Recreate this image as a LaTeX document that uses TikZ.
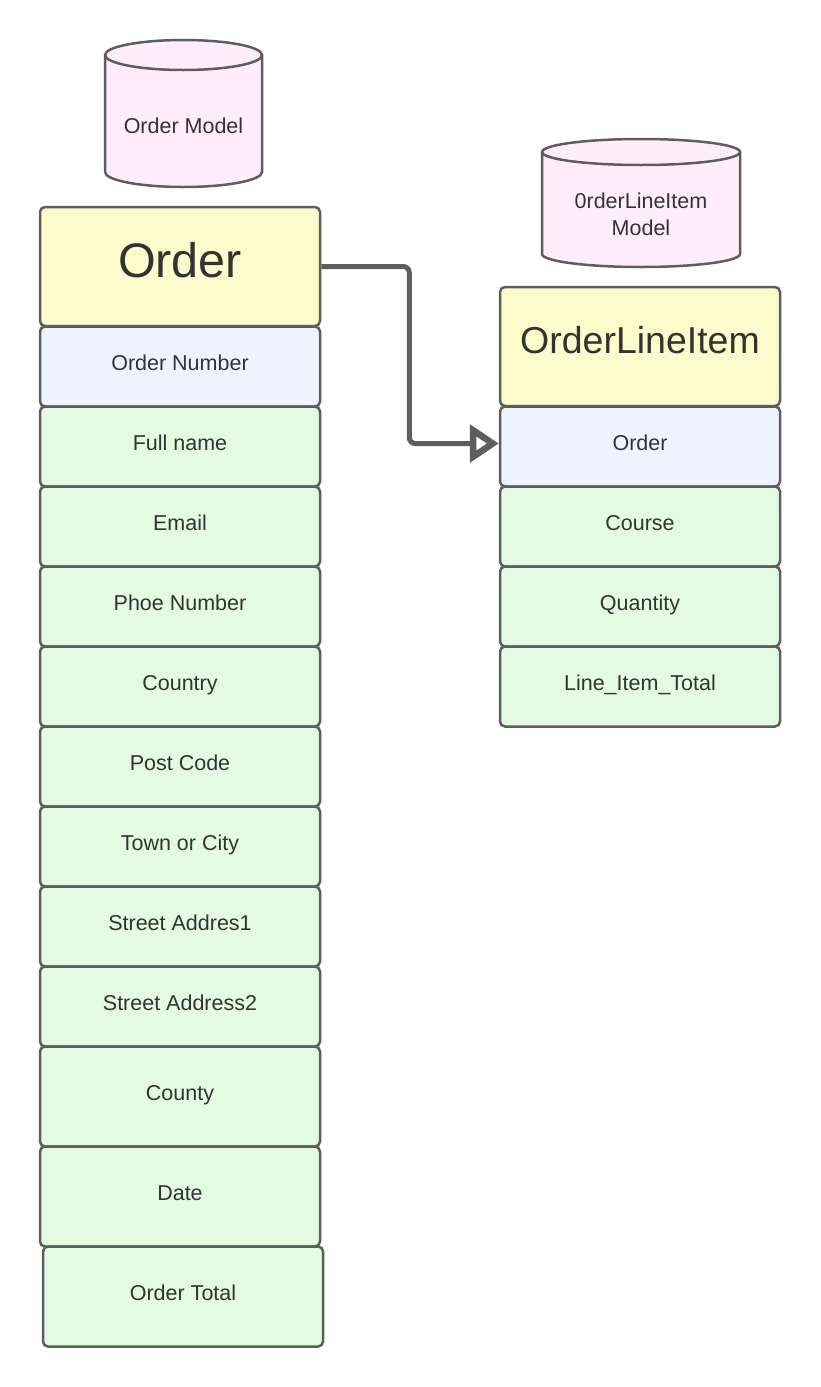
\documentclass[tikz,border=0pt]{standalone}
\usepackage{fontspec}
\setmainfont{Liberation Sans}
\usetikzlibrary{arrows.meta}
\definecolor{ylw}{HTML}{FBFBCB}
\definecolor{blu}{HTML}{EDF4FF}
\definecolor{grn}{HTML}{E3FAE3}
\definecolor{pnk}{HTML}{FFEEF9}
\definecolor{brd}{HTML}{5E5E5E}
\definecolor{txt}{HTML}{333333}
\tikzset{
  box/.style={draw=brd, line width=2.5pt, rounded corners=5pt, minimum width=280pt,
    inner sep=0pt, text=txt, font=\fontsize{21.5}{26}\selectfont,
    text height=16pt, text depth=7.5pt},
  fld/.style={box, fill=grn, minimum height=80pt},
  keyfld/.style={box, fill=blu, minimum height=80pt},
  tallfld/.style={box, fill=grn, minimum height=100pt},
  hdr/.style={box, fill=ylw, minimum height=119pt, text depth=13.2pt},
  cyl/.style={draw=brd, fill=pnk, line width=2.5pt},
  cyltext/.style={text=txt, font=\fontsize{21.5}{27}\selectfont, align=center, inner sep=0pt},
  conn/.style={draw=brd, line width=5pt, rounded corners=6pt,
    -{Triangle[open, length=29pt, width=37pt, line width=6.5pt]}}
}
\begin{document}
\begin{tikzpicture}[x=1pt,y=-1pt]
\path[use as bounding box, fill=white] (0,0) rectangle (820,1387);
% cylinders
\draw[cyl] (105,55) -- (105,172) arc (180:0:78.5 and 15) -- (262,55) arc (0:-180:78.5 and 15) -- cycle;
\draw[cyl, fill=none] (105,55) arc (180:0:78.5 and 15);
\node[cyltext] (ordermodel) at (183.5,126) {Order Model};
\draw[cyl] (542,152) -- (542,254) arc (180:0:99 and 13) -- (740,152) arc (0:-180:99 and 13) -- cycle;
\draw[cyl, fill=none] (542,152) arc (180:0:99 and 13);
\node[cyltext] (olimodel) at (641,214) {0rderLineItem\\Model};
% left column
\node[hdr, font=\fontsize{48.5}{56}\selectfont, text height=35pt] (order) at (180,266.5) {Order};
\node[keyfld] (ordernum) at (180,366.5) {Order Number};
\node[fld] (fullname) at (180,446.5) {Full name};
\node[fld] (email) at (180,526.5) {Email};
\node[fld] (phone) at (180,606.5) {Phoe Number};
\node[fld] (country) at (180,686.5) {Country};
\node[fld] (postcode) at (180,766.5) {Post Code};
\node[fld] (town) at (180,846.5) {Town or City};
\node[fld] (street1) at (180,926.5) {Street Addres1};
\node[fld] (street2) at (180,1006.5) {Street Address2};
\node[tallfld] (county) at (180,1096.5) {County};
\node[tallfld] (date) at (180,1196.5) {Date};
\node[tallfld] (total) at (183,1296.5) {Order Total};
% right column
\node[hdr, font=\fontsize{37.5}{44}\selectfont, text height=27pt] (oli) at (640,346.5) {OrderLineItem};
\node[keyfld] (oliorder) at (640,446.5) {Order};
\node[fld] (course) at (640,526.5) {Course};
\node[fld] (qty) at (640,606.5) {Quantity};
\node[fld] (litotal) at (640,686.5) {Line\_Item\_Total};
% connector
\draw[conn] (order.east) -- ([xshift=88pt]order.east) |- ([yshift=3pt]oliorder.west);
\end{tikzpicture}
\end{document}
